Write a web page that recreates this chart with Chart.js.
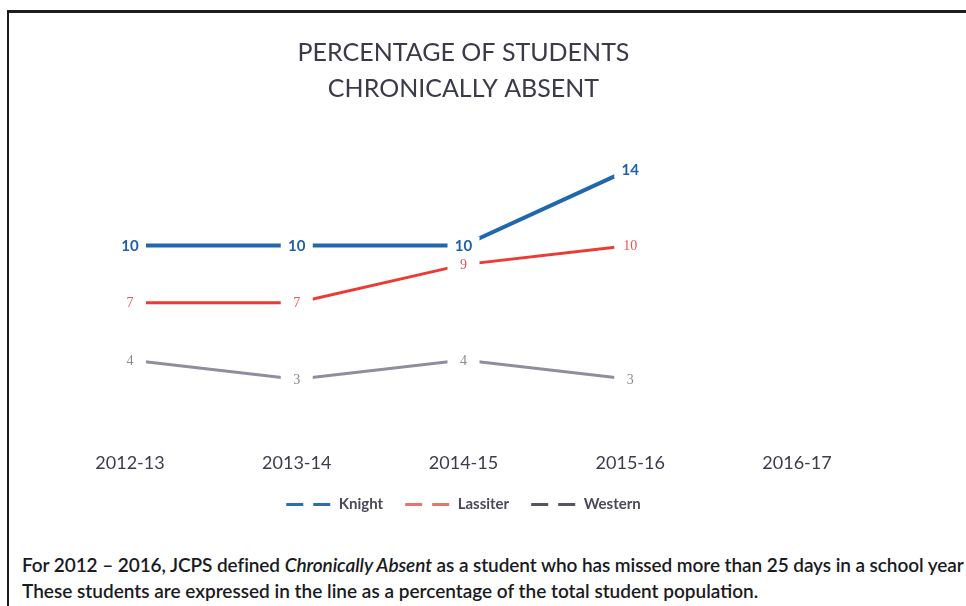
<!DOCTYPE html>
<html>
<head>
<meta charset="utf-8">
<script src="https://cdn.jsdelivr.net/npm/chart.js@4.4.1/dist/chart.umd.min.js"></script>
<style>
  html, body { margin: 0; padding: 0; background: #fff; width: 966px; height: 606px; overflow: hidden; }
  #frameTop { position: absolute; left: 7px; top: 10px; width: 959px; height: 3px; background: #1c1c1c; }
  #frameLeft { position: absolute; left: 7px; top: 10px; width: 2px; height: 596px; background: #1c1c1c; }
  #wrap { position: absolute; left: 9px; top: 14px; width: 910px; height: 530px; }
  #note { position: absolute; left: 22px; top: 552px; width: 944px; white-space: nowrap; overflow: hidden;
          font-family: Lato, "Open Sans", sans-serif; font-size: 19px; line-height: 26px; color: #1a1a22; font-weight: 600; }
  #note .l1 { letter-spacing: -0.08px; }
</style>
</head>
<body>
<div id="frameTop"></div>
<div id="frameLeft"></div>
<div id="wrap"><canvas id="c" width="910" height="530"></canvas></div>
<div id="note"><span class="l1">For 2012 – 2016, JCPS defined <i>Chronically Absent</i> as a student who has missed more than 25 days in a school year</span><br>These students are expressed in the line as a percentage of the total student population.</div>
<script>
const categories = ["2012-13", "2013-14", "2014-15", "2015-16", "2016-17"];
const knight   = [10, 10, 10, 14, null];
const lassiter = [7, 7, 9, 10, null];
const western  = [4, 3, 4, 3, null];
const titleLines = ["PERCENTAGE OF STUDENTS", "CHRONICALLY ABSENT"];
const seriesNames = ["Knight", "Lassiter", "Western"];

const colors = { knight: "#2067AE", lassiter: "#EE3A34", western: "#8E8E9C" };
const labelStyles = [
  { color: "#1F62A8", font: "bold 15px Lato, sans-serif" },
  { color: "#E0585A", font: "14px 'Liberation Serif', serif" },
  { color: "#8A8A92", font: "14px 'Liberation Serif', serif" }
];
const legendColors = ["#2D6DAE", "#E77471", "#555560"];

const dataLabelPlugin = {
  id: "dataLabels",
  afterDatasetsDraw(chart) {
    const ctx = chart.ctx;
    ctx.save();
    chart.data.datasets.forEach((ds, di) => {
      const meta = chart.getDatasetMeta(di);
      meta.data.forEach((pt, i) => {
        const v = ds.data[i];
        if (v === null || v === undefined) return;
        ctx.fillStyle = "#ffffff";
        ctx.fillRect(pt.x - 16, pt.y - 9, 32, 18);
        ctx.font = labelStyles[di].font;
        ctx.fillStyle = labelStyles[di].color;
        ctx.textAlign = "center";
        ctx.textBaseline = "middle";
        ctx.fillText(String(v), pt.x, pt.y + 1);
      });
    });
    ctx.restore();
  }
};

// lift the legend a little closer to the axis labels
const legendShift = {
  id: "legendShift",
  afterLayout(chart) {
    if (chart.legend) {
      chart.legend.top -= 7;
      chart.legend.bottom -= 7;
    }
  }
};

new Chart(document.getElementById("c"), {
  type: "line",
  data: {
    labels: categories,
    datasets: [
      { label: seriesNames[0], data: knight, borderColor: colors.knight, borderWidth: 4, pointRadius: 0, tension: 0 },
      { label: seriesNames[1], data: lassiter, borderColor: colors.lassiter, borderWidth: 3, pointRadius: 0, tension: 0 },
      { label: seriesNames[2], data: western, borderColor: colors.western, borderWidth: 3, pointRadius: 0, tension: 0 }
    ]
  },
  options: {
    responsive: false,
    animation: false,
    layout: { padding: { left: 121, right: 122, top: 0, bottom: 15 } },
    plugins: {
      title: {
        display: true,
        text: titleLines,
        color: "#3a3a48",
        font: { family: "Lato, sans-serif", size: 25, weight: "normal", lineHeight: 1.44 },
        padding: { top: 21, bottom: 24 }
      },
      legend: {
        position: "bottom",
        labels: {
          color: "#4a4a5a",
          font: { family: "Lato, sans-serif", size: 15, weight: "bold" },
          usePointStyle: true,
          pointStyle: "line",
          pointStyleWidth: 45,
          boxWidth: 45,
          padding: 22,
          generateLabels(chart) {
            return chart.data.datasets.map((ds, i) => ({
              text: ds.label,
              strokeStyle: legendColors[i],
              fillStyle: legendColors[i],
              lineWidth: 3,
              lineDash: [17, 10],
              pointStyle: "line",
              hidden: false,
              datasetIndex: i,
              fontColor: "#4a4a5a"
            }));
          }
        }
      },
      tooltip: { enabled: false }
    },
    scales: {
      x: {
        offset: false,
        grid: { display: false },
        border: { display: false },
        ticks: { color: "#3c3c4c", font: { family: "Lato, sans-serif", size: 18 }, padding: 8, maxRotation: 0 }
      },
      y: {
        display: false,
        min: 0,
        max: 16
      }
    }
  },
  plugins: [dataLabelPlugin, legendShift]
});
</script>
</body>
</html>
